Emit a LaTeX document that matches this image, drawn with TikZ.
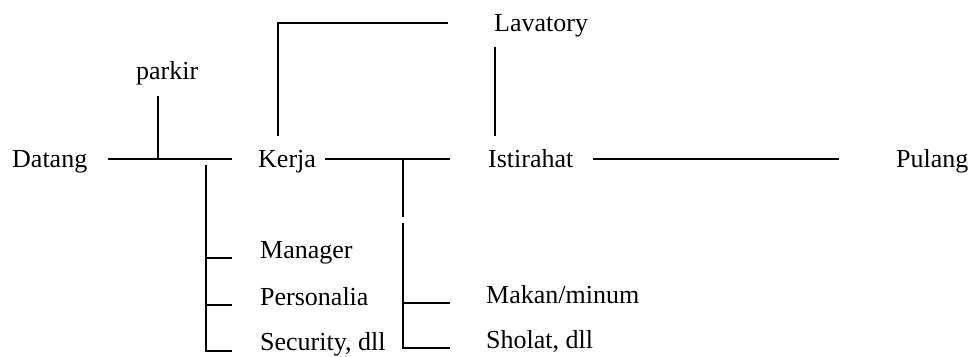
\documentclass[tikz,border=0pt]{standalone}
\usepackage{fontspec}
\setmainfont{Liberation Serif}
\begin{document}
\begin{tikzpicture}[x=1pt,y=-1pt,
  link/.style={line width=1.6pt},
  lbl/.style={inner sep=0pt, anchor=base west, font=\fontsize{26}{31}\selectfont}]
\useasboundingbox[fill=white] (0,0) rectangle (974,356);

% activity labels
\node[lbl] (datang) at (12,167) {Datang};
\node[lbl] (parkir) at (136,79) {parkir};
\node[lbl] (kerja)  at (258,167) {Kerja};
\node[lbl] (lav)    at (494,31) {Lavatory};
\node[lbl] (ist)    at (488,167) {Istirahat};
\node[lbl] (pulang) at (896,167) {Pulang};
\node[lbl] (mgr)    at (260,258) {Manager};
\node[lbl] (pers)   at (260,305) {Personalia};
\node[lbl] (sec)    at (260,350) {Security, dll};
\node[lbl] (makan)  at (486,303) {Makan/minum};
\node[lbl] (sholat) at (486,348) {Sholat, dll};

% junction points of the flow lines
\coordinate (dA) at (108,159);
\coordinate (dB) at (232,159);
\coordinate (pTop) at (158,96);
\coordinate (pFoot) at (158,159);
\coordinate (kTop) at (206,165);
\coordinate (kMgr) at (206,258);
\coordinate (kPers) at (206,305);
\coordinate (kSec) at (206,351);
\coordinate (kMgrE) at (232,258);
\coordinate (kPersE) at (232,305);
\coordinate (kSecE) at (232,351);

\coordinate (eA) at (325,159);
\coordinate (eB) at (450,159);
\coordinate (eDrop) at (403,159);
\coordinate (eGap1) at (403,217);
\coordinate (eGap2) at (403,223);
\coordinate (eMak) at (403,303);
\coordinate (eSho) at (403,348);
\coordinate (eMakE) at (450,303);
\coordinate (eShoE) at (450,348);

\coordinate (lA) at (278,136);
\coordinate (lB) at (278,23);
\coordinate (lC) at (448,23);
\coordinate (lD) at (495,47);
\coordinate (lE) at (495,136);

\coordinate (iA) at (593,159);
\coordinate (iB) at (839,159);

% Datang -> Kerja with parkir
\draw[link] (dA) -- (dB);
\draw[link] (pTop) -- (pFoot);
% staff branch
\draw[link] (kTop) -- (kSec) -- (kSecE);
\draw[link] (kMgr) -- (kMgrE);
\draw[link] (kPers) -- (kPersE);

% Kerja -> Istirahat with break branch
\draw[link] (eA) -- (eB);
\draw[link] (eDrop) -- (eGap1);
\draw[link] (eGap2) -- (eSho) -- (eShoE);
\draw[link] (eMak) -- (eMakE);

% Lavatory loop
\draw[link] (lA) -- (lB) -- (lC);
\draw[link] (lD) -- (lE);

% Istirahat -> Pulang
\draw[link] (iA) -- (iB);
\end{tikzpicture}
\end{document}
